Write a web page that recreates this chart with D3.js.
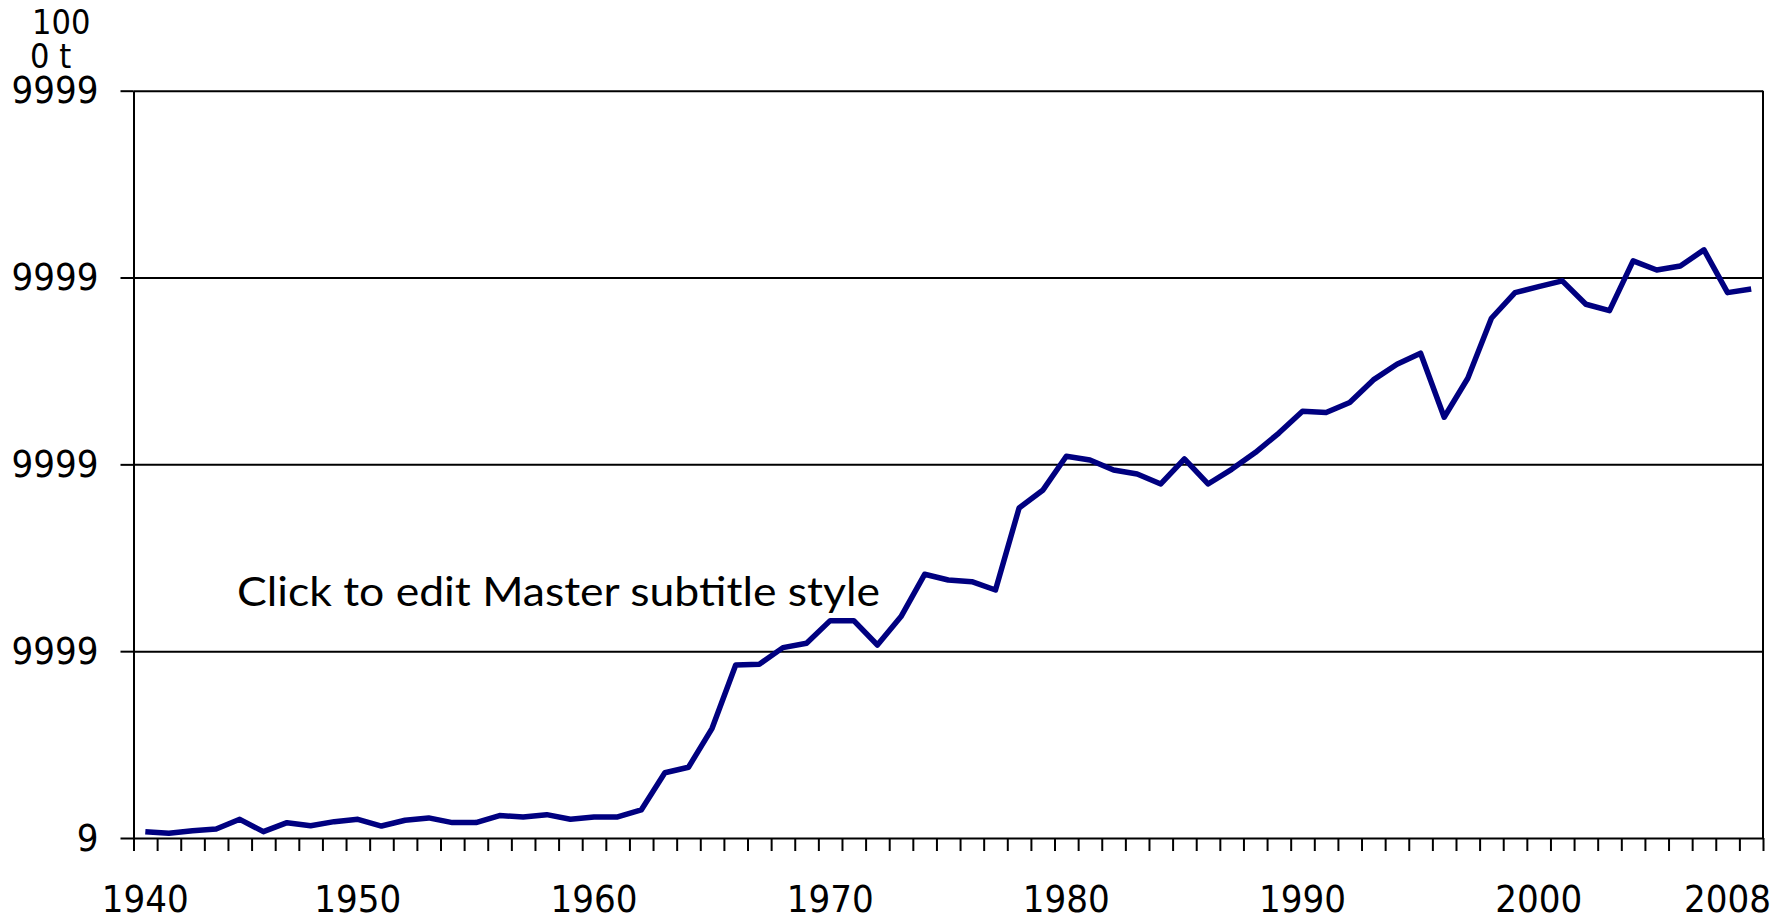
<!DOCTYPE html>
<html>
<head>
<meta charset="utf-8">
<script src="https://cdn.jsdelivr.net/npm/d3@7"></script>
<style>
  body { margin: 0; background: #fff; }
  .lbl { font-family: "DejaVu Sans Condensed", "DejaVu Sans", sans-serif; font-stretch: condensed; font-size: 38px; fill: #000; }
</style>
</head>
<body>
<div id="chart"></div>
<script>
// years on the category axis (one per point)
var years = [1940,1941,1942,1943,1944,1945,1946,1947,1948,1949,
  1950,1951,1952,1953,1954,1955,1956,1957,1958,1959,
  1960,1961,1962,1963,1964,1965,1966,1967,1968,1969,
  1970,1971,1972,1973,1974,1975,1976,1977,1978,1979,
  1980,1981,1982,1983,1984,1985,1986,1987,1988,1989,
  1990,1991,1992,1993,1994,1995,1996,1997,1998,1999,
  2000,2001,2002,2003,2004,2005,2006,2007,2008];

// values (1000 t)
var values = [68, 50, 78, 96, 200, 68, 164, 132, 175, 200,
  128, 190, 215, 165, 165, 240, 225, 250, 200, 225,
  225, 300, 699, 757, 1174, 1852, 1860, 2038, 2085, 2327,
  2327, 2066, 2370, 2823, 2762, 2744, 2655, 3533, 3722, 4087,
  4047, 3940, 3896, 3790, 4058, 3790, 3947, 4126, 4335, 4568,
  4556, 4663, 4904, 5072, 5190, 4504, 4922, 5564, 5838, 5903,
  5964, 5714, 5646, 6178, 6081, 6124, 6296, 5838, 5878];

// x labels: which category they sit under, and their text
var xLabelIdx = [0, 9, 19, 29, 39, 49, 59, 67];
var xLabelText = ["1940", "1950", "1960", "1970", "1980", "1990", "2000", "2008"];

// y ticks and the text shown for them
var yTicks = [0, 2000, 4000, 6000, 8000];
var yTickText = ["9", "9999", "9999", "9999", "9999"];

var unitLines = ["100", "0 t"];
var subtitle = "Click to edit Master subtitle style";

var svgWidth = 1787, svgHeight = 920;
var plotLeft = 133.5, plotRight = 1763, plotTop = 90.7, plotBottom = 838;

var svg = d3.select("#chart").append("svg")
  .attr("width", svgWidth)
  .attr("height", svgHeight);

var x = d3.scaleLinear().domain([0, years.length]).range([plotLeft, plotRight]);
var y = d3.scaleLinear().domain([0, 8000]).range([plotBottom, plotTop]);

// gridlines
svg.append("g")
  .attr("transform", `translate(${plotLeft},0)`)
  .call(d3.axisLeft(y).tickValues(yTicks.slice(1)).tickSize(-(plotRight - plotLeft)).tickFormat(""))
  .call(g => g.select(".domain").remove())
  .call(g => g.selectAll("line").attr("stroke", "#000").attr("stroke-width", 2));

// y axis
var yAxis = svg.append("g")
  .attr("transform", `translate(${plotLeft},0)`)
  .call(d3.axisLeft(y).tickValues(yTicks).tickSizeInner(13).tickSizeOuter(0).tickPadding(22)
    .tickFormat((d, i) => yTickText[i]));
yAxis.attr("font-size", null).attr("font-family", null);
yAxis.select(".domain").attr("stroke", "#000").attr("stroke-width", 2);
yAxis.selectAll("line").attr("stroke", "#000").attr("stroke-width", 2);
yAxis.selectAll("text").attr("class", "lbl");

// right border
svg.append("line")
  .attr("x1", plotRight).attr("x2", plotRight)
  .attr("y1", plotTop).attr("y2", plotBottom)
  .attr("stroke", "#000").attr("stroke-width", 2);

// x axis, ticks between categories
var xAxis = svg.append("g")
  .attr("transform", `translate(0,${plotBottom})`)
  .call(d3.axisBottom(x).tickValues(d3.range(years.length + 1)).tickSizeInner(13).tickSizeOuter(0).tickFormat(""));
xAxis.select(".domain").attr("stroke", "#000").attr("stroke-width", 2);
xAxis.selectAll("line").attr("stroke", "#000").attr("stroke-width", 2);

svg.append("g").selectAll("text")
  .data(xLabelIdx)
  .enter()
  .append("text")
  .attr("class", "lbl")
  .attr("x", d => x(d + 0.5))
  .attr("y", 912)
  .attr("text-anchor", "middle")
  .text((d, i) => xLabelText[i]);

// unit label
svg.append("text").attr("class", "lbl").style("font-size", "34px")
  .attr("x", 32).attr("y", 34).text(unitLines[0]);
svg.append("text").attr("class", "lbl").style("font-size", "34px")
  .attr("x", 30).attr("y", 68).text(unitLines[1]);

// the series
var line = d3.line()
  .x((d, i) => x(i + 0.5))
  .y(d => y(d));

svg.append("path")
  .datum(values)
  .attr("d", line)
  .attr("fill", "none")
  .attr("stroke", "#000080")
  .attr("stroke-width", 5.5)
  .attr("stroke-linejoin", "round");

// placeholder subtitle sitting over the chart
svg.append("text")
  .attr("x", 237)
  .attr("y", 606)
  .attr("font-family", "Lato, 'Open Sans', sans-serif")
  .attr("font-size", 41)
  .attr("textLength", 643)
  .attr("lengthAdjust", "spacingAndGlyphs")
  .attr("fill", "#000")
  .text(subtitle);
</script>
</body>
</html>
